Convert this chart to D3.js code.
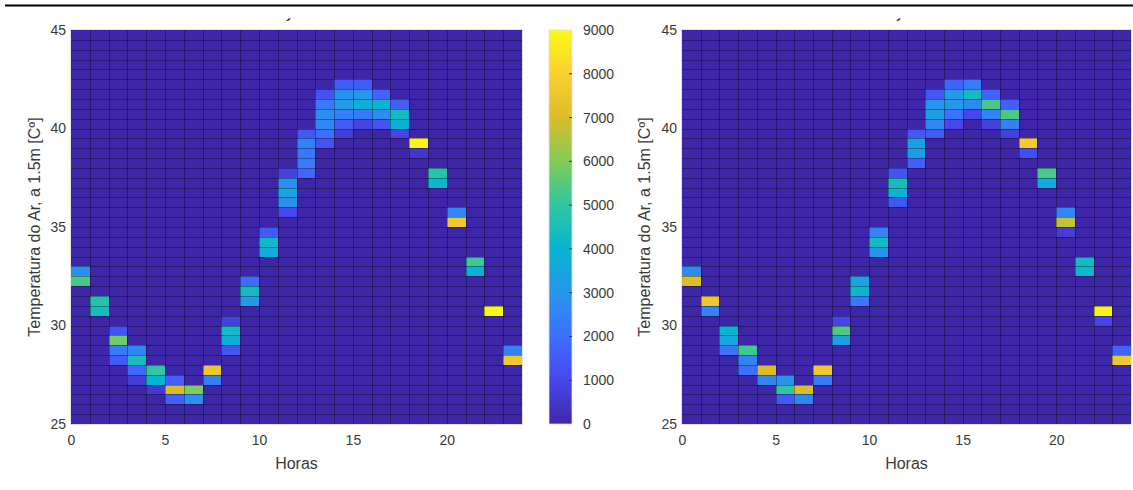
<!DOCTYPE html>
<html>
<head>
<meta charset="utf-8">
<script src="https://cdn.jsdelivr.net/npm/d3@7"></script>
<style>
  html, body { margin: 0; padding: 0; background: #fff; }
  svg { display: block; font-family: "Liberation Sans", Arial, Helvetica, sans-serif; }
</style>
</head>
<body>
<svg id="chart" width="1133" height="490"></svg>
<script>
// Hour bins (1 h wide) and air-temperature bins (0.5 °C wide)
const hourBins = d3.range(0, 24);
const tempBins = d3.range(25, 45, 0.5);

// Axis ticks
const hourTicks = [0, 5, 10, 15, 20];
const tempTicks = [25, 30, 35, 40, 45];
const countTicks = [0, 1000, 2000, 3000, 4000, 5000, 6000, 7000, 8000, 9000];

// Non-empty cells of the first histogram: [hour, lower temperature edge, count]
const leftCounts = [
  [0, 32.5, 2800], [0, 32, 5300],
  [1, 31, 4700], [1, 30.5, 4400],
  [2, 29.5, 1300], [2, 29, 5800], [2, 28.5, 2300], [2, 28, 1500],
  [3, 28.5, 2600], [3, 28, 4400], [3, 27.5, 1800], [3, 27, 700],
  [4, 27.5, 5000], [4, 27, 4000], [4, 26.5, 600],
  [5, 27, 1600], [5, 26.5, 7000], [5, 26, 1600],
  [6, 26.5, 6000], [6, 26, 2800],
  [7, 27.5, 7500], [7, 27, 2400],
  [8, 30, 800], [8, 29.5, 4300], [8, 29, 3700], [8, 28.5, 1300],
  [9, 32, 1900], [9, 31.5, 4300], [9, 31, 3100],
  [10, 34.5, 1500], [10, 34, 4200], [10, 33.5, 3700],
  [11, 37.5, 800], [11, 37, 2800], [11, 36.5, 3400], [11, 36, 2800], [11, 35.5, 1000],
  [12, 39.5, 1400], [12, 39, 2500], [12, 38.5, 2200], [12, 38, 2300], [12, 37.5, 1800],
  [13, 41.5, 1300], [13, 41, 2200], [13, 40.5, 2800], [13, 40, 2600], [13, 39.5, 2000], [13, 39, 1300],
  [14, 42, 1500], [14, 41.5, 2900], [14, 41, 3100], [14, 40.5, 2400], [14, 40, 1500], [14, 39.5, 700],
  [15, 42, 1500], [15, 41.5, 3000], [15, 41, 3800], [15, 40.5, 2200], [15, 40, 900],
  [16, 41.5, 1700], [16, 41, 3900], [16, 40.5, 2800], [16, 40, 1300],
  [17, 41, 1600], [17, 40.5, 4300], [17, 40, 3900], [17, 39.5, 900],
  [18, 39, 8800], [18, 38.5, 500],
  [19, 37.5, 4800], [19, 37, 4100],
  [20, 35.5, 2600], [20, 35, 7600],
  [21, 33, 5200], [21, 32.5, 3900],
  [22, 30.5, 8900],
  [23, 28.5, 2500], [23, 28, 7600]
];

// Non-empty cells of the second histogram
const rightCounts = [
  [0, 32.5, 2700], [0, 32, 7000],
  [1, 31, 7600], [1, 30.5, 2500],
  [2, 29.5, 4000], [2, 29, 3500], [2, 28.5, 2100],
  [3, 28.5, 5200], [3, 28, 2500], [3, 27.5, 2000],
  [4, 27.5, 7000], [4, 27, 2600],
  [5, 27, 2900], [5, 26.5, 5000], [5, 26, 1500],
  [6, 26.5, 7000], [6, 26, 2600],
  [7, 27.5, 7600], [7, 27, 2200],
  [8, 30, 900], [8, 29.5, 5400], [8, 29, 3300],
  [9, 32, 3400], [9, 31.5, 4100], [9, 31, 2200],
  [10, 34.5, 2500], [10, 34, 4300], [10, 33.5, 2900],
  [11, 37.5, 1300], [11, 37, 4400], [11, 36.5, 3900], [11, 36, 1400],
  [12, 39.5, 1400], [12, 39, 3300], [12, 38.5, 3300], [12, 38, 1600],
  [13, 41.5, 1400], [13, 41, 3000], [13, 40.5, 3300], [13, 40, 2600], [13, 39.5, 1500],
  [14, 42, 1700], [14, 41.5, 3100], [14, 41, 3000], [14, 40.5, 2100], [14, 40, 1000],
  [15, 42, 2300], [15, 41.5, 4300], [15, 41, 2700], [15, 40.5, 1000],
  [16, 41.5, 1700], [16, 41, 5300], [16, 40.5, 2600], [16, 40, 800],
  [17, 41, 1600], [17, 40.5, 5300], [17, 40, 2500], [17, 39.5, 800],
  [18, 39, 7700], [18, 38.5, 1200],
  [19, 37.5, 5300], [19, 37, 3600],
  [20, 35.5, 2600], [20, 35, 6700], [20, 34.5, 700],
  [21, 33, 4300], [21, 32.5, 4100],
  [22, 30.5, 8800], [22, 30, 900],
  [23, 28.5, 1700], [23, 28, 7600]
];

const yLabel = "Temperatura do Ar, a 1.5m [Cº]";
const xLabel = "Horas";

// Parula colour map anchors
const parula = ["#3e26a8", "#4747eb", "#3e6fff", "#2796eb", "#08b5d0",
                "#31c69f", "#81cc59", "#dcbd29", "#fccf30", "#f9fb15"];
const color = d3.scaleSequential(d3.piecewise(d3.interpolateRgb, parula))
  .domain([0, 9000]);

const svg = d3.select("#chart");
const plotTop = 30, plotBottom = 424;
const textCol = "#3a3a3a";
const tickSize = 14, labelSize = 16;
const snap = v => Math.round(v) + 0.5;

// horizontal rule above the figure
svg.append("line")
  .attr("x1", 5).attr("x2", 1133).attr("y1", 5.5).attr("y2", 5.5)
  .attr("stroke", "#000").attr("stroke-width", 2.2);

function drawPanel(cells, x0, x1, yLabelX) {
  const x = d3.scaleLinear().domain([0, 24]).range([x0, x1]);
  const y = d3.scaleLinear().domain([25, 45]).range([plotBottom, plotTop]);
  const lookup = new Map(cells.map(d => [d[0] + "|" + d[1], d[2]]));
  const grid = [];
  hourBins.forEach(h => tempBins.forEach(t => {
    grid.push({ h, t, n: lookup.get(h + "|" + t) || 0 });
  }));

  const g = svg.append("g");
  // light axes box
  g.append("rect")
    .attr("x", x0 - 0.5).attr("y", plotTop - 0.5)
    .attr("width", x1 - x0 + 1).attr("height", plotBottom - plotTop + 1)
    .attr("fill", "none").attr("stroke", "#e2e2e2");

  // histogram tiles
  g.selectAll("rect.cell").data(grid).join("rect")
    .attr("class", "cell")
    .attr("x", d => x(d.h))
    .attr("y", d => y(d.t + 0.5))
    .attr("width", d => x(d.h + 1) - x(d.h))
    .attr("height", d => y(d.t) - y(d.t + 0.5))
    .attr("fill", d => color(d.n))
    .attr("shape-rendering", "crispEdges");

  // tile edges
  const edges = g.append("g").attr("stroke", "#000").attr("stroke-opacity", 0.34)
    .attr("stroke-width", 1);
  edges.selectAll("line.v").data(d3.range(1, 24)).join("line")
    .attr("class", "v")
    .attr("x1", d => snap(x(d))).attr("x2", d => snap(x(d)))
    .attr("y1", plotTop).attr("y2", plotBottom);
  edges.selectAll("line.h").data(tempBins.slice(1)).join("line")
    .attr("class", "h")
    .attr("y1", d => snap(y(d))).attr("y2", d => snap(y(d)))
    .attr("x1", x0).attr("x2", x1);

  const xAxis = d3.axisBottom(x).tickValues(hourTicks).tickSize(0).tickPadding(11);
  const xg = g.append("g").attr("transform", `translate(0,${plotBottom})`).call(xAxis);
  xg.select(".domain").remove();
  xg.selectAll("text").attr("font-size", tickSize).attr("fill", textCol)
    .attr("font-family", "Liberation Sans, Arial, sans-serif");

  const yAxis = d3.axisLeft(y).tickValues(tempTicks).tickSize(0).tickPadding(5);
  const yg = g.append("g").attr("transform", `translate(${x0},0)`).call(yAxis);
  yg.select(".domain").remove();
  yg.selectAll("text").attr("font-size", tickSize).attr("fill", textCol)
    .attr("font-family", "Liberation Sans, Arial, sans-serif");

  g.append("text")
    .attr("x", (x0 + x1) / 2).attr("y", 469)
    .attr("text-anchor", "middle").attr("font-size", labelSize).attr("fill", textCol)
    .text(xLabel);

  g.append("text")
    .attr("transform", `translate(${yLabelX},${(plotTop + plotBottom) / 2}) rotate(-90)`)
    .attr("text-anchor", "middle").attr("font-size", labelSize).attr("fill", textCol)
    .text(yLabel);

  // clipped title remnant above the axes
  g.append("text")
    .attr("x", (x0 + x1) / 2 - 8).attr("y", 31)
    .attr("text-anchor", "middle").attr("font-size", 17).attr("font-weight", "bold")
    .attr("fill", "#222")
    .text("´");
}

drawPanel(leftCounts, 71, 522, 40);
drawPanel(rightCounts, 682, 1131, 650);

// colour bar
const cb = { x: 549, w: 23 };
const cScale = d3.scaleLinear().domain([0, 9000]).range([plotBottom, plotTop]);
const defs = svg.append("defs");
const grad = defs.append("linearGradient").attr("id", "parulaGrad")
  .attr("x1", 0).attr("y1", 1).attr("x2", 0).attr("y2", 0);
parula.forEach((c, i) => {
  grad.append("stop").attr("offset", i / (parula.length - 1)).attr("stop-color", c);
});
svg.append("rect")
  .attr("x", cb.x).attr("y", plotTop)
  .attr("width", cb.w).attr("height", plotBottom - plotTop)
  .attr("fill", "url(#parulaGrad)")
  .attr("stroke", "#e0e0e0").attr("stroke-width", 0.8);

const cg = svg.append("g");
cg.selectAll("line").data(countTicks.slice(1, -1)).join("line")
  .attr("x1", cb.x + cb.w - 3).attr("x2", cb.x + cb.w)
  .attr("y1", d => cScale(d)).attr("y2", d => cScale(d))
  .attr("stroke", "#333").attr("stroke-width", 1);
const cAxis = d3.axisRight(cScale).tickValues(countTicks).tickSize(0).tickPadding(11)
  .tickFormat(d3.format("d"));
const cag = svg.append("g").attr("transform", `translate(${cb.x + cb.w},0)`).call(cAxis);
cag.select(".domain").remove();
cag.selectAll("text").attr("font-size", tickSize).attr("fill", textCol)
  .attr("font-family", "Liberation Sans, Arial, sans-serif");
</script>
</body>
</html>
